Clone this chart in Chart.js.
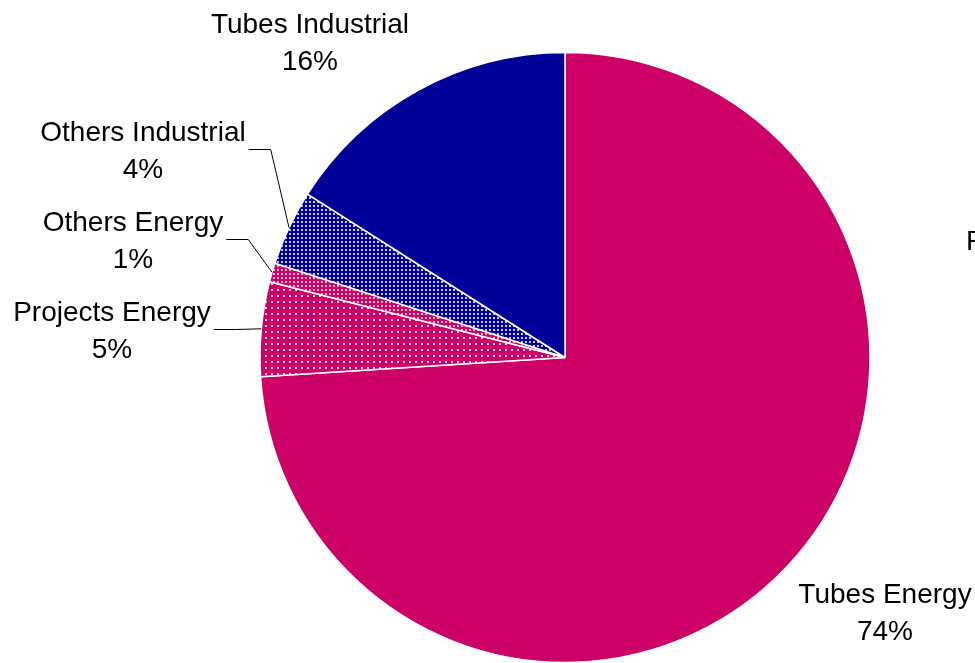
<!DOCTYPE html>
<html>
<head>
    <title>Sales by segment</title>
    <style>
        body {
            margin: 0;
            background: #ffffff;
        }

        .chart-box {
            position: relative;
            width: 975px;
            height: 663px;
            overflow: hidden;
        }
    </style>
</head>
<body>
    <div class="chart-box">
        <canvas id="segmentChart" width="975" height="663"></canvas>
    </div>

    <script src="https://cdn.jsdelivr.net/npm/chart.js"></script>
    <script>
        // segment shares, clockwise from 12 o'clock
        var segments = ['Tubes Energy', 'Projects Energy', 'Others Energy', 'Others Industrial', 'Tubes Industrial'];
        var shares = [74, 5, 1, 4, 16];

        var magenta = '#CC0066';
        var navy = '#000099';

        // dotted fill: base colour with small light dots on a square grid
        function dotPattern(base, dot, step, size) {
            var c = document.createElement('canvas');
            c.width = step;
            c.height = step;
            var g = c.getContext('2d');
            g.fillStyle = base;
            g.fillRect(0, 0, step, step);
            g.fillStyle = dot;
            g.fillRect(1, 1, size, size);
            return g.createPattern(c, 'repeat');
        }

        var ctx = document.getElementById('segmentChart').getContext('2d');

        var fills = [
            magenta,
            dotPattern(magenta, '#f6d0e2', 6, 2),
            dotPattern(magenta, '#f0b8d4', 4, 2),
            dotPattern(navy, '#c8c8ee', 4, 2),
            navy
        ];

        // where each label block sits, relative to the pie centre (px)
        var labelLayout = [
            { dx: 320, dy: 256, leader: false },
            { dx: -453, dy: -26, leader: true },
            { dx: -432, dy: -116, leader: true },
            { dx: -422, dy: -206, leader: true },
            { dx: -255, dy: -314, leader: false }
        ];

        var labelFont = '28px "Liberation Sans", Arial, sans-serif';
        var lineGap = 37;

        var pieLabels = {
            id: 'pieLabels',
            afterDatasetsDraw: function (chart) {
                var c = chart.ctx;
                var meta = chart.getDatasetMeta(0);
                var data = chart.data.datasets[0].data;
                var total = data.reduce(function (a, b) { return a + b; }, 0);

                c.save();
                c.font = labelFont;
                c.fillStyle = '#000000';
                c.textAlign = 'center';
                c.textBaseline = 'middle';

                meta.data.forEach(function (arc, i) {
                    var p = arc.getProps(['x', 'y', 'startAngle', 'endAngle', 'outerRadius'], true);
                    var lay = labelLayout[i];
                    var cx = p.x + lay.dx;
                    var cy = p.y + lay.dy;
                    var name = chart.data.labels[i];
                    var pct = Math.round(data[i] / total * 100) + '%';

                    c.fillText(name, cx, cy - lineGap / 2);
                    c.fillText(pct, cx, cy + lineGap / 2);

                    if (lay.leader) {
                        var mid = (p.startAngle + p.endAngle) / 2;
                        var ex = p.x + Math.cos(mid) * p.outerRadius;
                        var ey = p.y + Math.sin(mid) * p.outerRadius;
                        var sx = cx + c.measureText(name).width / 2 + 3;
                        var ly = cy - 2;
                        c.beginPath();
                        c.strokeStyle = '#000000';
                        c.lineWidth = 1;
                        c.moveTo(sx, ly);
                        c.lineTo(sx + 22, ly);
                        c.lineTo(ex, ey);
                        c.stroke();
                    }
                });

                // label of the neighbouring chart, clipped by the frame
                c.textAlign = 'left';
                c.fillText('P', 966, 242);
                c.restore();
            }
        };

        var segmentChart = new Chart(ctx, {
            type: 'pie',
            data: {
                labels: segments,
                datasets: [{
                    data: shares,
                    backgroundColor: fills,
                    borderColor: '#ffffff',
                    borderWidth: 1.5,
                    radius: 305
                }]
            },
            options: {
                responsive: false,
                animation: false,
                layout: {
                    padding: { left: 259, right: 104, top: 52, bottom: 0 }
                },
                plugins: {
                    legend: { display: false },
                    tooltip: { enabled: false }
                }
            },
            plugins: [pieLabels]
        });
    </script>
</body>
</html>
